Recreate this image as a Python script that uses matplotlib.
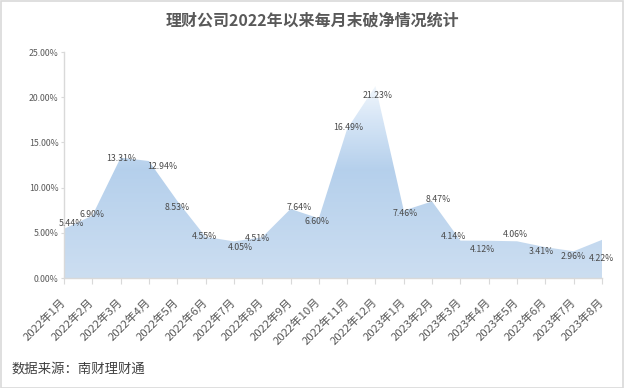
import matplotlib
matplotlib.use("Agg")
import matplotlib.pyplot as plt
import numpy as np
from matplotlib.colors import LinearSegmentedColormap
from matplotlib.patches import Rectangle, PathPatch

plt.rcParams['font.family'] = ['Noto Sans CJK SC', 'DejaVu Sans']

months = ["2022年1月", "2022年2月", "2022年3月", "2022年4月", "2022年5月", "2022年6月",
          "2022年7月", "2022年8月", "2022年9月", "2022年10月", "2022年11月", "2022年12月",
          "2023年1月", "2023年2月", "2023年3月", "2023年4月", "2023年5月", "2023年6月",
          "2023年7月", "2023年8月"]
values = [5.44, 6.90, 13.31, 12.94, 8.53, 4.55, 4.05, 4.51, 7.64, 6.60, 16.49, 21.23,
          7.46, 8.47, 4.14, 4.12, 4.06, 3.41, 2.96, 4.22]
yticks = [0, 5, 10, 15, 20, 25]

# label offsets in pixels (dx, dy) relative to the point
label_offsets = [(7, 5), (0, 1), (1, -1), (13, -5), (0, -7), (-1, 0), (6, -6), (-5, -1),
                 (9, 1), (-2, -3), (1, 1), (2, -9), (1, -3), (6, 2), (-7, 4), (-6, -9),
                 (-2, 7), (-4, -4), (-1, -5), (-1, -19)]

W, H = 624, 388
fig = plt.figure(figsize=(W / 100, H / 100), dpi=100)
left, right, bottom, top = 64 / W, 602 / W, 1 - 278 / H, 1 - 52 / H
ax = fig.add_axes([left, bottom, right - left, top - bottom])

x = np.arange(len(values))
ax.set_xlim(0, len(values) - 1)
ax.set_ylim(0, 25)

poly = ax.fill_between(x, values, 0, color='none', lw=0)
cmap = LinearSegmentedColormap.from_list('g', [
    (0.0, (0.80, 0.87, 0.945)),
    (0.48, (0.71, 0.815, 0.925)),
    (0.70, (0.84, 0.90, 0.965)),
    (0.86, (0.95, 0.97, 0.99)),
    (1.0, (1.0, 1.0, 1.0))])
grad = np.linspace(0, 1, 256).reshape(-1, 1)
im = ax.imshow(grad, cmap=cmap, aspect='auto', origin='lower',
               extent=[0, len(values) - 1, 0, 25], zorder=1)
path = poly.get_paths()[0]
clip = PathPatch(path, transform=ax.transData, facecolor='none', edgecolor='none')
ax.add_patch(clip)
im.set_clip_path(clip)

for xi, v, (dx, dy) in zip(x, values, label_offsets):
    ax.annotate(f"{v:.2f}%", (xi, v), xytext=(dx * 0.72, dy * 0.72),
                textcoords='offset points', ha='center', va='center',
                fontsize=6.3, color='#4a4a4a', zorder=3)

ax.set_yticks(yticks)
ax.set_yticklabels([f"{t:.2f}%" for t in yticks], fontsize=6.3, color='#595959')
ax.set_xticks(x)
ax.set_xticklabels(months, rotation=45, ha='right', va='center',
                   rotation_mode='anchor', fontsize=8.2, color='#595959')
ax.tick_params(axis='x', length=4, color='#d9d9d9', pad=12)
ax.tick_params(axis='y', length=2, color='#d9d9d9', pad=2)
for s in ['top', 'right']:
    ax.spines[s].set_visible(False)
for s in ['left', 'bottom']:
    ax.spines[s].set_color('#d9d9d9')
    ax.spines[s].set_linewidth(1)

fig.text(312 / W, 1 - 21 / H, "理财公司2022年以来每月末破净情况统计", ha='center', va='center',
         fontsize=11.5, fontweight='bold', color='#595959')
fig.text(12 / W, 1 - 369 / H, "数据来源：南财理财通", ha='left', va='center',
         fontsize=9.6, color='#404040')

fig.patches.append(Rectangle((0.5 / W, 0.5 / H), 1 - 1.5 / W, 1 - 1.5 / H,
                             transform=fig.transFigure, fill=False,
                             edgecolor='#d9d9d9', lw=1.2))

fig.savefig("out.png", dpi=100)
